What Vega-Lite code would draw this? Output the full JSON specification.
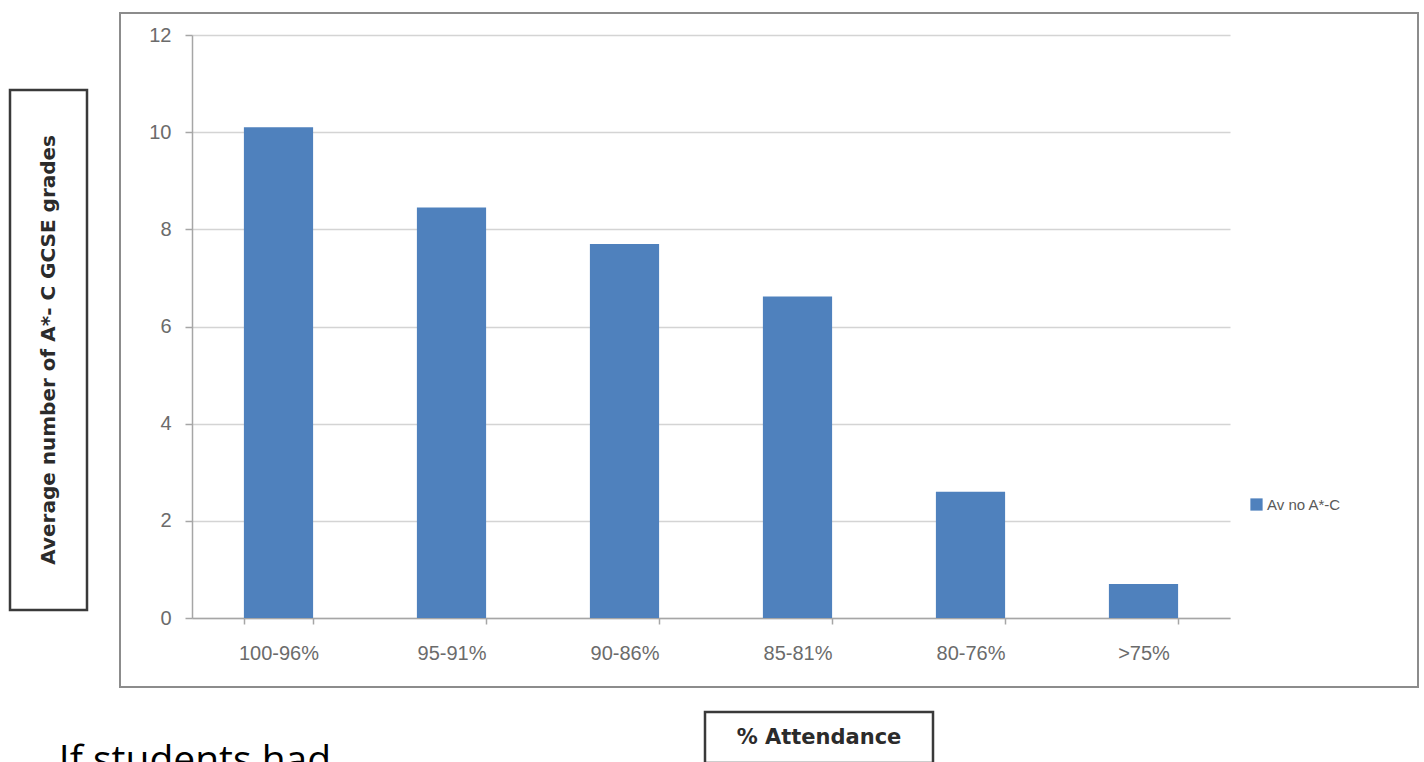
{
  "$schema": "https://vega.github.io/schema/vega-lite/v6.json",
  "padding": {"left": 8, "top": 12, "right": 0, "bottom": 0},
  "background": "white",
  "spacing": 22,
  "config": {"font": "Liberation Sans"},
  "datasets": {
    "bars": [
      {"attendance": "100-96%", "avg": 10.1},
      {"attendance": "95-91%", "avg": 8.45},
      {"attendance": "90-86%", "avg": 7.7},
      {"attendance": "85-81%", "avg": 6.62},
      {"attendance": "80-76%", "avg": 2.6},
      {"attendance": ">75%", "avg": 0.7}
    ],
    "ytitle": [{"t": "Average number of A*- C GCSE grades"}],
    "xtitle": [{"t": "%  Attendance"}],
    "note": [{"t": "If  students had"}]
  },
  "vconcat": [
    {
      "hconcat": [
        {
          "width": 77,
          "height": 520,
          "data": {"name": "ytitle"},
          "view": {"stroke": "#3a3a3a", "strokeWidth": 2.5, "fill": "white"},
          "mark": {"type": "text", "angle": 270, "fontSize": 20, "fontWeight": "bold", "color": "#2b2b2b", "font": "DejaVu Sans"},
          "encoding": {"text": {"field": "t", "type": "nominal"}}
        },
        {
          "width": 1298,
          "height": 674,
          "data": {"name": "bars"},
          "view": {"stroke": "#8c8c8c", "strokeWidth": 2, "fill": "white"},
          "mark": {"type": "bar", "color": "#4F81BD"},
          "encoding": {
            "x": {
              "field": "attendance",
              "type": "nominal",
              "sort": null,
              "scale": {"range": [72, 1110], "paddingInner": 0.6, "paddingOuter": 0.3},
              "axis": {
                "title": null,
                "offset": -69,
                "labelAngle": 0,
                "labelFontSize": 20,
                "labelColor": "#6b6b6b",
                "labelPadding": 19,
                "tickBand": "extent",
                "tickSize": 6,
                "tickColor": "#a6a6a6",
                "tickWidth": 1.5,
                "domainColor": "#a6a6a6",
                "domainWidth": 1.5,
                "grid": false
              }
            },
            "y": {
              "field": "avg",
              "type": "quantitative",
              "scale": {"domain": [0, 12], "range": [605, 22], "nice": false},
              "axis": {
                "title": null,
                "offset": -72,
                "values": [0, 2, 4, 6, 8, 10, 12],
                "labelFontSize": 20,
                "labelColor": "#6b6b6b",
                "labelPadding": 14,
                "tickSize": 7,
                "tickColor": "#a6a6a6",
                "tickWidth": 1.5,
                "domainColor": "#a6a6a6",
                "domainWidth": 1.5,
                "grid": true,
                "gridColor": "#d4d4d4",
                "gridWidth": 1.5
              }
            },
            "color": {
              "datum": "Av no A*-C",
              "type": "nominal",
              "scale": {"range": ["#4F81BD"]},
              "legend": {
                "title": null,
                "orient": "none",
                "legendX": 1239,
                "legendY": 484,
                "symbolType": "square",
                "symbolSize": 150,
                "symbolStrokeWidth": 0,
                "labelFontSize": 15,
                "labelColor": "#595959",
                "labelOffset": 3,
                "padding": 0
              }
            }
          }
        }
      ],
      "spacing": 30,
      "center": true
    },
    {
      "hconcat": [
        {
          "width": 370,
          "height": 51,
          "data": {"name": "note"},
          "view": {"stroke": null},
          "mark": {"type": "text", "fontSize": 39, "baseline": "top", "dy": 4, "color": "#000000", "font": "Open Sans"},
          "encoding": {"text": {"field": "t", "type": "nominal"}}
        },
        {
          "width": 228,
          "height": 51,
          "data": {"name": "xtitle"},
          "view": {"stroke": "#3a3a3a", "strokeWidth": 2.5, "fill": "white"},
          "mark": {"type": "text", "fontSize": 21, "fontWeight": "bold", "color": "#2b2b2b", "font": "DejaVu Sans"},
          "encoding": {"text": {"field": "t", "type": "nominal"}}
        }
      ],
      "spacing": 323
    }
  ]
}
